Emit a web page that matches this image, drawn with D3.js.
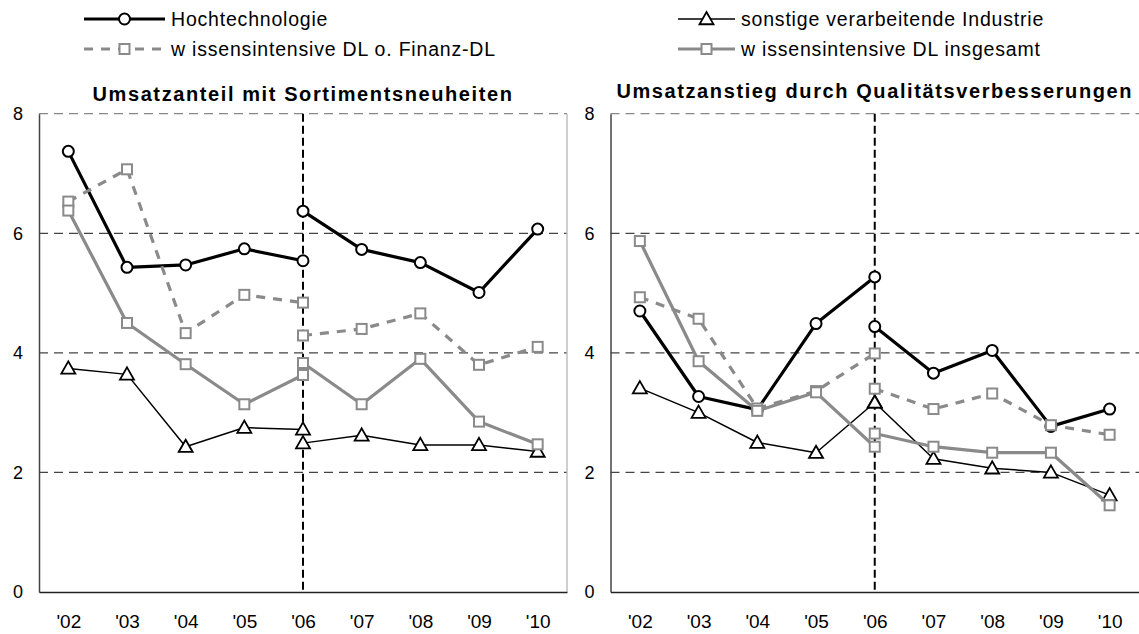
<!DOCTYPE html>
<html>
<head>
<meta charset="utf-8">
<script src="https://cdn.jsdelivr.net/npm/d3@7"></script>
<style>
  html, body { margin: 0; padding: 0; background: #fff; }
  svg { display: block; font-family: "Liberation Sans", Arial, sans-serif; }
</style>
</head>
<body>
<svg id="chart" width="1139" height="634"></svg>
<script>
// ---------- data ----------
const years = ["'02", "'03", "'04", "'05", "'06", "'07", "'08", "'09", "'10"];
const yearsOld = ["'02", "'03", "'04", "'05", "'06"];
const yearsNew = ["'06", "'07", "'08", "'09", "'10"];
const yTicks = [0, 2, 4, 6, 8];
const breakYear = "'06";

const seriesNames = [
  "Hochtechnologie",
  "sonstige verarbeitende Industrie",
  "w issensintensive DL o. Finanz-DL",
  "w issensintensive DL insgesamt"
];

const panelTitles = [
  "Umsatzanteil mit Sortimentsneuheiten",
  "Umsatzanstieg durch Qualitätsverbesserungen"
];

// left panel: Umsatzanteil mit Sortimentsneuheiten
const leftHochOld = [7.37, 5.43, 5.47, 5.74, 5.54];
const leftHochNew = [6.37, 5.73, 5.51, 5.01, 6.07];
const leftSonstOld = [3.74, 3.64, 2.43, 2.75, 2.72];
const leftSonstNew = [2.49, 2.62, 2.46, 2.46, 2.35];
const leftFinOld = [6.53, 7.07, 4.33, 4.97, 4.84];
const leftFinNew = [4.29, 4.40, 4.66, 3.80, 4.10];
const leftInsOld = [6.38, 4.50, 3.81, 3.14, 3.63];
const leftInsNew = [3.83, 3.14, 3.90, 2.85, 2.47];

// right panel: Umsatzanstieg durch Qualitätsverbesserungen
const rightHochOld = [4.70, 3.27, 3.05, 4.49, 5.27];
const rightHochNew = [4.44, 3.66, 4.04, 2.77, 3.06];
const rightSonstOld = [3.41, 3.00, 2.50, 2.33, 3.17];
const rightSonstNew = [3.17, 2.23, 2.07, 2.00, 1.62];
const rightFinOld = [4.93, 4.57, 3.07, 3.36, 3.99];
const rightFinNew = [3.40, 3.06, 3.32, 2.79, 2.63];
const rightInsOld = [5.87, 3.86, 3.03, 3.34, 2.43];
const rightInsNew = [2.65, 2.43, 2.33, 2.33, 1.45];

// ---------- styles ----------
const GREY = "#8a8a8a";
const styles = [
  { stroke: "#000", width: 3.2, dash: null, marker: "circle", mstroke: "#000" },
  { stroke: "#000", width: 1.5, dash: null, marker: "triangle", mstroke: "#000" },
  { stroke: GREY, width: 3.2, dash: "9,8", marker: "square", mstroke: GREY },
  { stroke: GREY, width: 3.2, dash: null, marker: "square", mstroke: GREY }
];

const svg = d3.select("#chart");
const FONT_TICK = 18;

const y = d3.scaleLinear().domain([0, 8]).range([592, 113.7]);

const panels = [
  { x0: 39, x1: 567, title: panelTitles[0], titleY: 101, border: true,
    data: [[leftHochOld, leftHochNew], [leftSonstOld, leftSonstNew], [leftFinOld, leftFinNew], [leftInsOld, leftInsNew]] },
  { x0: 610.5, x1: 1139, title: panelTitles[1], titleY: 98, border: false,
    data: [[rightHochOld, rightHochNew], [rightSonstOld, rightSonstNew], [rightFinOld, rightFinNew], [rightInsOld, rightInsNew]] }
];

function drawMarker(g, type, cx, cy, st) {
  if (type === "circle") {
    g.append("circle").attr("cx", cx).attr("cy", cy).attr("r", 5.5)
      .attr("fill", "#fff").attr("stroke", st.mstroke).attr("stroke-width", 2);
  } else if (type === "square") {
    g.append("rect").attr("x", cx - 5).attr("y", cy - 5).attr("width", 10).attr("height", 10)
      .attr("fill", "#fff").attr("stroke", st.mstroke).attr("stroke-width", 2);
  } else {
    const s = 7;
    g.append("path")
      .attr("d", `M${cx},${cy - s}L${cx + s},${cy + s * 0.75}L${cx - s},${cy + s * 0.75}Z`)
      .attr("fill", "#fff").attr("stroke", st.mstroke).attr("stroke-width", 1.8);
  }
}

panels.forEach(p => {
  const x = d3.scalePoint().domain(years).range([p.x0, p.x1]).padding(0.5);
  const g = svg.append("g");

  // gridlines (incl. top line at 8)
  g.selectAll("line.grid").data(yTicks.filter(v => v > 0)).join("line")
    .attr("x1", p.x0).attr("x2", p.x1)
    .attr("y1", d => y(d)).attr("y2", d => y(d))
    .attr("stroke", d => d === 8 ? "#888" : "#444")
    .attr("stroke-width", 1.3)
    .attr("stroke-dasharray", "9,6");

  if (p.border) {
    g.append("line").attr("x1", p.x1).attr("x2", p.x1).attr("y1", y(8)).attr("y2", y(0))
      .attr("stroke", "#b5b5b5").attr("stroke-width", 1.3);
  }

  // break line at '06
  g.append("line").attr("x1", x(breakYear)).attr("x2", x(breakYear))
    .attr("y1", y(8)).attr("y2", y(0))
    .attr("stroke", "#000").attr("stroke-width", 2).attr("stroke-dasharray", "8,4");

  // y axis
  const ya = g.append("g").attr("transform", `translate(${p.x0},0)`)
    .call(d3.axisLeft(y).tickValues(yTicks).tickSize(0).tickPadding(16).tickFormat(d3.format("d")));
  ya.select(".domain").attr("stroke", "#444").attr("stroke-width", 1.5);
  ya.selectAll("text").attr("font-size", FONT_TICK).attr("fill", "#000")
    .attr("font-family", "Liberation Sans, Arial, sans-serif");

  // x axis
  const xa = g.append("g").attr("transform", `translate(0,${y(0)})`)
    .call(d3.axisBottom(x).tickSize(0).tickSizeOuter(0));
  xa.select(".domain").attr("stroke", "#222").attr("stroke-width", 1.5);
  xa.selectAll("text").attr("font-size", FONT_TICK + 1).attr("fill", "#000")
    .attr("y", 36).attr("dy", 0)
    .attr("font-family", "Liberation Sans, Arial, sans-serif");

  // title
  svg.append("text").attr("x", (p.x0 + p.x1) / 2).attr("y", p.titleY)
    .attr("text-anchor", "middle").attr("font-weight", "bold").attr("font-size", 20)
    .attr("letter-spacing", 1.6).text(p.title);

  // series
  p.data.forEach((pair, i) => {
    const st = styles[i];
    const line = d3.line().x(d => x(d[0])).y(d => y(d[1]));
    const segs = [d3.zip(yearsOld, pair[0]), d3.zip(yearsNew, pair[1])];
    const sg = g.append("g");
    segs.forEach(seg => {
      sg.append("path").attr("d", line(seg)).attr("fill", "none")
        .attr("stroke", st.stroke).attr("stroke-width", st.width)
        .attr("stroke-dasharray", st.dash).attr("stroke-linejoin", "round");
    });
    segs.forEach(seg => seg.forEach(d => drawMarker(sg, st.marker, x(d[0]), y(d[1]), st)));
  });
});

// ---------- legend ----------
const legendItems = [
  { s: 0, x0: 84, x1: 165, row: 0 },
  { s: 2, x0: 84, x1: 165, row: 1 },
  { s: 1, x0: 678, x1: 735, row: 0 },
  { s: 3, x0: 678, x1: 735, row: 1 }
];
const legendRowY = [19, 49];
const lg = svg.append("g");
legendItems.forEach(it => {
  const st = styles[it.s];
  const ly = legendRowY[it.row];
  lg.append("line").attr("x1", it.x0).attr("x2", it.x1).attr("y1", ly).attr("y2", ly)
    .attr("stroke", st.stroke).attr("stroke-width", st.width).attr("stroke-dasharray", st.dash);
  drawMarker(lg, st.marker, (it.x0 + it.x1) / 2, ly, st);
  lg.append("text").attr("x", it.x1 + 6).attr("y", ly).attr("dy", "0.35em")
    .attr("font-size", 19.5).attr("letter-spacing", 0.8).text(seriesNames[it.s]);
});
</script>
</body>
</html>
